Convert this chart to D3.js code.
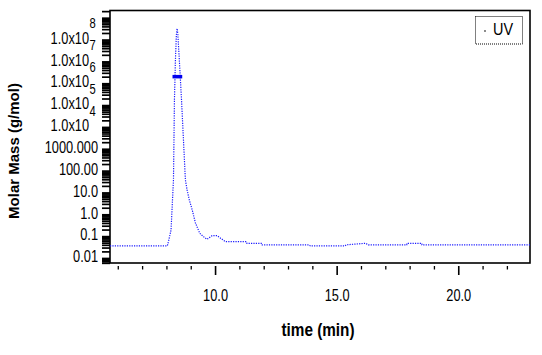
<!DOCTYPE html>
<html>
<head>
<meta charset="utf-8">
<script src="https://cdn.jsdelivr.net/npm/d3@7"></script>
<style>
  html, body { margin: 0; padding: 0; background: #fff; }
  svg { display: block; }
  text { font-family: "Liberation Sans", Arial, sans-serif; }
</style>
</head>
<body>
<svg id="chart" width="542" height="355"></svg>
<script>
// UV trace (time in min, signal plotted on molar-mass log axis)
const uvTime = [5.68, 8.03, 8.05, 8.10, 8.19, 8.25, 8.29, 8.30, 8.33, 8.37, 8.41, 8.44, 8.47, 8.53, 8.62, 8.70, 8.78, 8.85, 8.94, 9.06, 9.19, 9.37, 9.52, 9.67, 9.88, 10.08, 10.29, 10.42, 11.29, 11.31, 11.93, 11.94, 13.87, 13.92, 15.35, 15.39, 16.17, 16.19, 16.30, 17.88, 17.89, 18.50, 18.51, 22.95];
const uvValue = [0.0355, 0.0355, 0.040, 0.068, 0.19, 4.6, 38, 316, 1.8e5, 1.2e7, 1.7e8, 3.2e8, 1.7e8, 1.2e7, 1.8e5, 2600, 38, 13, 4.6, 1.6, 0.41, 0.135, 0.095, 0.072, 0.105, 0.105, 0.072, 0.056, 0.056, 0.047, 0.047, 0.040, 0.040, 0.0355, 0.0355, 0.040, 0.047, 0.047, 0.040, 0.040, 0.047, 0.047, 0.040, 0.040];

// Molar mass points (thick segment across the peak)
const mmTime = [8.25, 8.35, 8.45, 8.55, 8.65];
const mmValue = [2.0e6, 2.0e6, 2.0e6, 2.0e6, 2.0e6];

// Axis ticks
const xMajorTicks = [10, 15, 20];
const xMajorLabels = ["10.0", "15.0", "20.0"];
const xMinorTicks = [6, 7, 8, 9, 11, 12, 13, 14, 16, 17, 18, 19, 21, 22];
const yTickValues = [0.01, 0.1, 1, 10, 100, 1000, 1e4, 1e5, 1e6, 1e7, 1e8];
const yTickLabels = ["0.01", "0.1", "1.0", "10.0", "100.00", "1000.000", "1.0x10", "1.0x10", "1.0x10", "1.0x10", "1.0x10"];
const yTickExponents = ["", "", "", "", "", "", "4", "5", "6", "7", "8"];

const xTitle = "time (min)";
const yTitle = "Molar Mass (g/mol)";
const legendLabel = "UV";

const svg = d3.select("#chart");
const pLeft = 110, pRight = 530, pTop = 10.5, pBottom = 263;

const x = d3.scaleLinear().domain([5.68, 22.95]).range([pLeft, pRight]);
const y = d3.scaleLog().domain([Math.pow(10, -2.23), Math.pow(10, 9.33)]).range([pBottom, pTop]);

// narrow text helper (condensed look)
function narrowText(parent, tx, ty, str, opts) {
  const g = parent.append("g").attr("transform", `translate(${tx},${ty}) scale(${opts.sx || 0.8},1)`);
  return g.append("text")
    .attr("x", 0).attr("y", 0)
    .attr("text-anchor", opts.anchor || "start")
    .attr("dominant-baseline", "middle")
    .attr("font-size", opts.size || 16)
    .attr("font-weight", opts.weight || "normal")
    .attr("fill", "#000")
    .text(str);
}

// y minor ticks: 1..9 × 10^d inside the domain
const yMinor = [];
for (let d = -3; d <= 9; d++) {
  for (let k = 1; k <= 9; k++) {
    const v = k * Math.pow(10, d);
    if (v >= y.domain()[0] && v <= y.domain()[1]) yMinor.push(v);
  }
}

// Y axis ticks (dense log ticks)
const yAxisG = svg.append("g").attr("transform", `translate(${pLeft},0)`)
  .call(d3.axisLeft(y).tickValues(yMinor).tickFormat("").tickSizeInner(8).tickSizeOuter(0));
yAxisG.select(".domain").remove();
yAxisG.selectAll(".tick line").attr("stroke", "#000").attr("stroke-width", 1.7);

// Y tick labels
const yl = svg.append("g");
yTickValues.forEach((v, i) => {
  const yy = y(v);
  if (yTickExponents[i]) {
    narrowText(yl, 89, yy, yTickLabels[i], {anchor: "end", size: 16});
    narrowText(yl, 89.5, yy - 15, yTickExponents[i], {anchor: "start", size: 14});
  } else {
    narrowText(yl, 98, yy, yTickLabels[i], {anchor: "end", size: 16});
  }
});

// X axis ticks
const xMinorG = svg.append("g").attr("transform", `translate(0,${pBottom + 3})`)
  .call(d3.axisBottom(x).tickValues(xMinorTicks).tickFormat("").tickSizeInner(3.5).tickSizeOuter(0));
xMinorG.select(".domain").remove();
xMinorG.selectAll(".tick line").attr("stroke", "#000").attr("stroke-width", 1.3);

const xMajorG = svg.append("g").attr("transform", `translate(0,${pBottom + 3})`)
  .call(d3.axisBottom(x).tickValues(xMajorTicks).tickFormat("").tickSizeInner(9).tickSizeOuter(0));
xMajorG.select(".domain").remove();
xMajorG.selectAll(".tick line").attr("stroke", "#000").attr("stroke-width", 1.6);
xMajorG.selectAll(".tick").each(function(d, i) {
  narrowText(d3.select(this), 0, 31, xMajorLabels[i], {anchor: "middle", size: 16});
});

// Frame
svg.append("rect")
  .attr("x", pLeft).attr("y", pTop)
  .attr("width", pRight - pLeft).attr("height", pBottom - pTop)
  .attr("fill", "none").attr("stroke", "#000").attr("stroke-width", 1.6);

// UV trace
const uvData = uvTime.map((t, i) => [t, uvValue[i]]);
svg.append("path")
  .datum(uvData)
  .attr("fill", "none")
  .attr("stroke", "#1a1aff")
  .attr("stroke-width", 1.2)
  .attr("stroke-dasharray", "1.2,1.2")
  .attr("d", d3.line().x(d => x(d[0])).y(d => y(d[1])));

// Molar mass segment
const mmData = mmTime.map((t, i) => [t, mmValue[i]]);
svg.append("path")
  .datum(mmData)
  .attr("fill", "none")
  .attr("stroke", "#0000ee")
  .attr("stroke-width", 3.5)
  .attr("d", d3.line().x(d => x(d[0])).y(d => y(d[1])));

// Legend
svg.append("rect")
  .attr("x", 475.5).attr("y", 16.5).attr("width", 47).attr("height", 27.5)
  .attr("fill", "#fff").attr("stroke", "#000").attr("stroke-width", 1)
  .attr("stroke-dasharray", "1,1");
svg.append("circle").attr("cx", 485).attr("cy", 31).attr("r", 0.9).attr("fill", "#555");
narrowText(svg, 493, 31, legendLabel, {anchor: "start", size: 17, sx: 0.85});

// Axis titles
svg.append("text")
  .attr("transform", "translate(15,151) rotate(-90)")
  .attr("text-anchor", "middle")
  .attr("dominant-baseline", "middle")
  .attr("font-weight", "bold")
  .attr("font-size", 15)
  .attr("fill", "#000")
  .text(yTitle);

narrowText(svg, 318, 331, xTitle, {anchor: "middle", size: 18, weight: "bold", sx: 0.85});
</script>
</body>
</html>
